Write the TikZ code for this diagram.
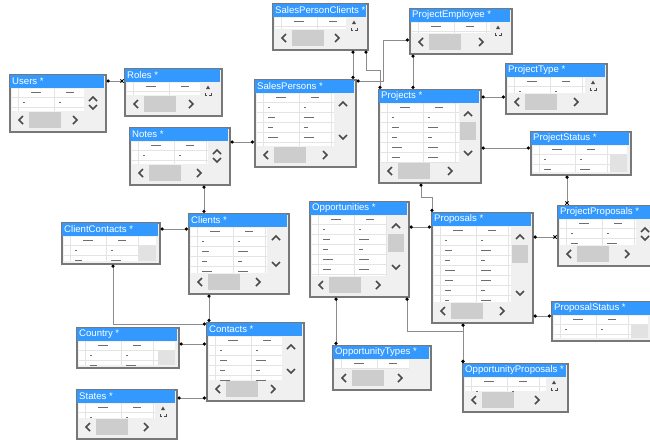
\documentclass[tikz,border=0pt]{standalone}
\usepackage{fontspec}
\setmainfont{Liberation Sans}
\usetikzlibrary{arrows.meta}
\definecolor{titleblue}{RGB}{51,153,255}
\definecolor{tblborder}{RGB}{120,120,120}
\definecolor{tblbody}{RGB}{240,240,240}
\definecolor{thumbgray}{RGB}{205,205,205}
\definecolor{blockgray}{RGB}{226,226,226}
\definecolor{gridgray}{RGB}{228,228,228}
\definecolor{chevgray}{RGB}{75,75,75}
\definecolor{relgray}{RGB}{140,140,140}
\definecolor{inkgray}{RGB}{110,110,110}

\newcommand\dbtable[8]{%
  \begin{scope}[shift={(#2,#3)}]
    \pgfmathsetmacro\tw{#4}
    \pgfmathsetmacro\th{#5}
    \ifnum#8=0
      \pgfmathsetmacro\gx{#4-3}\pgfmathsetmacro\gy{#5-2}
    \else
      \pgfmathsetmacro\gx{#4-21}\pgfmathsetmacro\gy{#5-20}
    \fi
    \node[tbl, minimum width=#4pt, minimum height=#5pt] (#1) at (0,0) {};
    \fill[titleblue] (0.75,0.75) rectangle (\tw-0.75,13.5);
    \node[ttext] at (3,7.5) {#6 *};
    \fill[white] (3,14.5) rectangle (\gx,\gy);
    \begin{scope}
      \clip (3,14.5) rectangle (\gx,\gy);
      \draw[gridln] (3,23) -- (\gx,23);
      \foreach \c in {9,45,77} \draw[gridln] (\c,14) -- (\c,\gy);
      \draw[cell] (22,18.5) -- (32,18.5) (57,18.5) -- (65,18.5);
      \ifnum#7>0
      \foreach \r in {1,...,#7}{
        \pgfmathsetmacro\ry{18+10*\r}
        \pgfmathsetmacro\la{ifthenelse(\r==1,2,4+mod(\r*5,7))}
        \pgfmathsetmacro\lb{ifthenelse(\r==1,2,ifthenelse(mod(\r,3)==0,4,10))}
        \draw[gridln] (3,\ry+5) -- (\gx,\ry+5);
        \draw[cell] (14,\ry) -- ++(\la,0) (50,\ry) -- ++(\lb,0);
      }
      \fi
    \end{scope}
    \ifcase#8
      \fill[blockgray] (\tw-20,23.5) rectangle (\gx,\gy);
    \or
      \fill[chevgray] (\tw-15,21) -- (\tw-13,17.5) -- (\tw-11,21) -- cycle;
      \draw[chevgray, line width=0.6pt] (\tw-16,25) -- (\tw-16,27) -- (\tw-14,27)
        (\tw-10,25) -- (\tw-10,27) -- (\tw-12,27);
    \or\or\or
    \fi
    \ifnum#8=3 \fill[thumbgray] (\tw-20,33) rectangle (\tw-4,51); \fi
    \ifnum#8>1 \ifnum#8<4
      \pgfmathsetmacro\vy{max(\gy-9,33)}
      \draw[chev] (\tw-16,27) -- (\tw-12,23) -- (\tw-8,27);
      \draw[chev] (\tw-16,\vy-2) -- (\tw-12,\vy+2) -- (\tw-8,\vy-2);
    \fi \fi
    \ifnum#8>0
      \fill[thumbgray] (20,\th-19) rectangle (52,\th-3);
      \draw[chev] (14,\th-15) -- (10,\th-11) -- (14,\th-7);
      \draw[chev] (\tw-32,\th-15) -- (\tw-28,\th-11) -- (\tw-32,\th-7);
    \fi
  \end{scope}}

\begin{document}
\begin{tikzpicture}[
    x=1pt, y=-1pt,
    tbl/.style={draw=tblborder, fill=tblbody, line width=1.6pt, anchor=north west, inner sep=0pt},
    ttext/.style={text=white, font=\fontsize{9.6}{10}\selectfont, anchor=west, inner sep=0pt},
    gridln/.style={draw=gridgray, line width=0.8pt},
    cell/.style={draw=inkgray, line width=0.7pt},
    chev/.style={draw=chevgray, line width=1.7pt},
    rel/.style={draw=relgray, line width=0.9pt, {Circle[length=3.2pt,color=black]}-{Circle[length=3.2pt,color=black]}},
    relmany/.style={draw=relgray, line width=0.9pt, {Circle[length=3.2pt,color=black]}-{Rays[n=4,length=4.5pt,color=black]}}
]
\path[use as bounding box, fill=white] (0,0) rectangle (650,440);

\dbtable{users}{9}{74}{96}{57}{Users}{2}{2}
\dbtable{roles}{124}{68}{97}{47}{Roles}{1}{1}
\dbtable{spclients}{272}{3}{95}{46}{SalesPersonClients}{1}{1}
\dbtable{pemployee}{409}{8}{102}{45}{ProjectEmployee}{1}{1}
\dbtable{salespersons}{254}{79}{101}{87}{SalesPersons}{5}{2}
\dbtable{notes}{129}{127}{100}{57}{Notes}{2}{2}
\dbtable{projects}{378}{89}{102}{93}{Projects}{5}{3}
\dbtable{projecttype}{505}{63}{101}{50}{ProjectType}{1}{1}
\dbtable{projectstatus}{530}{131}{100}{43}{ProjectStatus}{2}{0}
\dbtable{clientcontacts}{61}{222}{98}{41}{ClientContacts}{2}{0}
\dbtable{clients}{188}{213}{100}{80}{Clients}{4}{2}
\dbtable{country}{76}{327}{102}{40}{Country}{2}{0}
\dbtable{contacts}{206}{322}{97}{78}{Contacts}{4}{2}
\dbtable{states}{76}{389}{100}{49}{States}{1}{1}
\dbtable{opportunities}{309}{201}{99}{95}{Opportunities}{5}{3}
\dbtable{proposals}{431}{212}{101}{110}{Proposals}{7}{3}
\dbtable{projectproposals}{557}{205}{100}{60}{ProjectProposals}{2}{2}
\dbtable{proposalstatus}{551}{301}{100}{39}{ProposalStatus}{2}{0}
\dbtable{opptypes}{332}{345}{98}{44}{OpportunityTypes}{0}{4}
\dbtable{oppproposals}{462}{363}{105}{48}{OpportunityProposals}{1}{1}

\draw[relmany] (users.east |- 0,81) -- (roles.west |- 0,81);
\draw[rel] (notes.east |- 0,142) -- (salespersons.west |- 0,142);
\draw[rel] (spclients.south -| 353,0) -- (salespersons.north -| 353,0);
\draw[rel] (spclients.south -| 366,0) -- (366,70) -| (projects.north -| 380,0);
\draw[rel] (salespersons.east |- 0,81) -| (383,40) -- (pemployee.west |- 0,40);
\draw[rel] (pemployee.south -| 413,0) -- (projects.north -| 413,0);
\draw[rel] (projects.east |- 0,97) -- (projecttype.west |- 0,97);
\draw[rel] (projects.east |- 0,148) -- (projectstatus.west |- 0,148);
\draw[relmany] (projectstatus.south -| 567,0) -- (projectproposals.north -| 567,0);
\draw[rel] (projects.south -| 421,0) |- (432,197) -- (proposals.north -| 432,0);
\draw[rel] (opportunities.east |- 0,227) -- (proposals.west |- 0,227);
\draw[relmany] (proposals.east |- 0,237) -- (projectproposals.west |- 0,237);
\draw[rel] (proposals.east |- 0,316) -- (proposalstatus.west |- 0,316);
\draw[rel] (opportunities.south -| 336,0) -- (opptypes.north -| 336,0);
\draw[rel] (opportunities.south -| 407,0) -- (407,331) -| (oppproposals.north -| 463,0);
\draw[rel] (proposals.south -| 463,0) -- (oppproposals.north -| 463,0);
\draw[rel] (notes.south -| 204,0) -- (clients.north -| 204,0);
\draw[rel] (clientcontacts.east |- 0,229) -- (clients.west |- 0,229);
\draw[rel] (clientcontacts.south -| 113,0) |- (contacts.west |- 0,324);
\draw[rel] (clients.south -| 209,0) -- (contacts.north -| 209,0);
\draw[rel] (country.east |- 0,344) -- (contacts.west |- 0,344);
\draw[rel] (contacts.west |- 0,398) -- (states.east |- 0,398);
\end{tikzpicture}
\end{document}
